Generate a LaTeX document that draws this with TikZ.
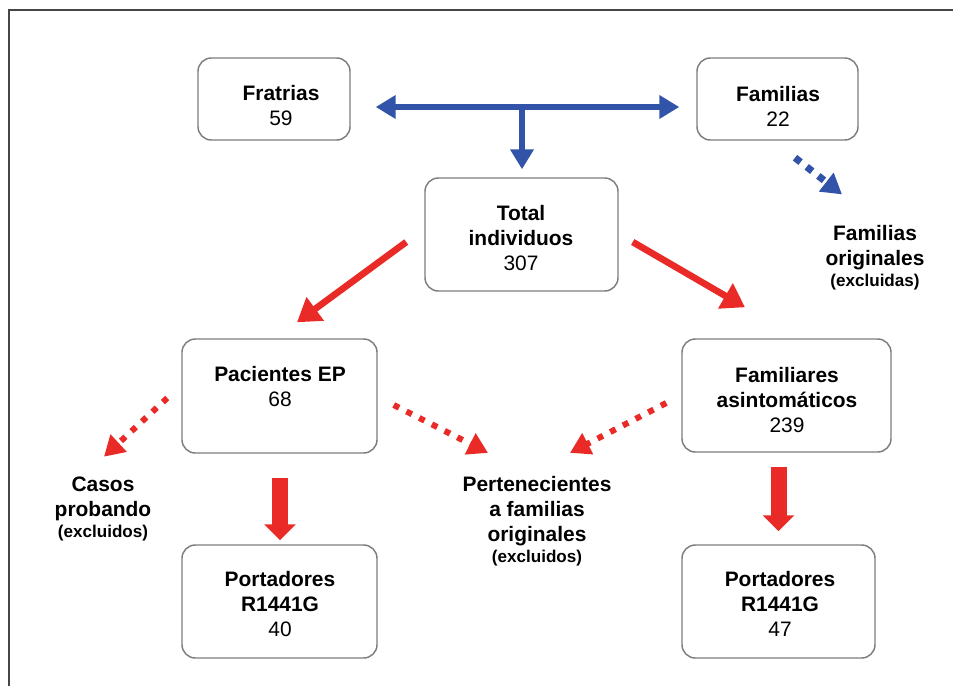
\documentclass[tikz,border=0pt]{standalone}
\usepackage{fontspec}
\setmainfont{Liberation Sans}
\usetikzlibrary{arrows.meta,calc}
\definecolor{arrblue}{RGB}{50,84,168}
\definecolor{arrred}{RGB}{233,42,38}
\definecolor{boxgray}{RGB}{125,125,125}
\definecolor{framegray}{RGB}{70,70,70}
\newcommand\exclsmall[1]{{\fontsize{12.8}{14}\selectfont\bfseries #1}}
\begin{document}
\begin{tikzpicture}[x=0.75pt,y=-0.75pt,
  box/.style={draw=boxgray,line width=1.1pt,rounded corners=10pt,inner sep=0pt},
  txt/.style={align=center,font=\fontsize{15.7}{18.75}\selectfont,inner sep=0pt},
  bluearr/.style={draw=arrblue,line width=4pt},
  redthin/.style={draw=arrred,line width=5pt,-{Triangle[length=17pt,width=21pt]}},
  redfat/.style={draw=arrred,line width=12pt,-{Triangle[length=12pt,width=23pt]}},
  reddot/.style={draw=arrred,line width=4.5pt,dash pattern=on 4.5pt off 6.2pt,-{Triangle[length=15pt,width=17pt]}},
  bluedot/.style={draw=arrblue,line width=5.3pt,dash pattern=on 5.3pt off 5.8pt,-{Triangle[length=15pt,width=17pt]}},
  framestyle/.style={draw=framegray,line width=1.5pt}
]
\useasboundingbox (0,0) rectangle (953,686);
\fill[white] (0,0) rectangle (953,686);
\coordinate (fbl) at (8.5,686);
\coordinate (ftl) at (8.5,9.5);
\coordinate (ftr) at (953,9.5);
\draw[framestyle] (fbl) -- (ftl) -- (ftr);

% boxes
\node[box,minimum width=114pt,minimum height=61.5pt] (fr) at (274,99) {};
\node[box,minimum width=120.75pt,minimum height=61.5pt] (fa) at (777.5,99) {};
\node[box,minimum width=144.75pt,minimum height=84.75pt] (tot) at (521.5,234.5) {};
\node[box,minimum width=146.25pt,minimum height=85.5pt] (pac) at (279.5,396) {};
\node[box,minimum width=156.75pt,minimum height=84.75pt] (fam) at (786.5,395.5) {};
\node[box,minimum width=146.25pt,minimum height=84.75pt] (p1) at (279.5,601.5) {};
\node[box,minimum width=144.75pt,minimum height=84.75pt] (p2) at (778.5,601.5) {};

% box texts
\node[txt] (tfr) at (281,106) {\textbf{Fratrias}\\59};
\node[txt] (tfa) at (778,106) {\textbf{Familias}\\22};
\node[txt] (ttot) at (521,238) {\textbf{Total}\\\textbf{individuos}\\307};
\node[txt] (tpac) at (280,387) {\textbf{Pacientes EP}\\68};
\node[txt] (tfam) at (787,400) {\textbf{Familiares}\\\textbf{asintomáticos}\\239};
\node[txt] (tp1) at (280,604) {\textbf{Portadores}\\\textbf{R1441G}\\40};
\node[txt] (tp2) at (780,604) {\textbf{Portadores}\\\textbf{R1441G}\\47};

% free texts
\node[txt] (famorig) at (875,258) {\textbf{Familias}\\\textbf{originales}\\[-3pt]\exclsmall{(excluidas)}};
\node[txt] (casos) at (103,509) {\textbf{Casos}\\\textbf{probando}\\[-3pt]\exclsmall{(excluidos)}};
\node[txt] (pert) at (537,521) {\textbf{Pertenecientes}\\\textbf{a familias}\\\textbf{originales}\\[-3pt]\exclsmall{(excluidos)}};

% blue arrows
\draw[bluearr,{Triangle[length=15pt,width=17pt]}-{Triangle[length=15pt,width=17pt]}]
  ($(fr.east)+(25,8)$) -- ($(fa.west)+(-17,8)$);
\draw[bluearr,-{Triangle[length=15pt,width=17pt]}]
  ($(tot.north)+(0.5,-71)$) -- ($(tot.north)+(0.5,-8)$);
\draw[bluedot] ($(fa.south)+(17.5,17)$) -- ($(famorig.north)+(-33,-31)$);

% red arrows
\draw[redthin] ($(tot.west)+(-18,7.5)$) -- ($(pac.north)+(17.5,-16)$);
\draw[redthin] ($(tot.east)+(14,7.5)$) -- ($(fam.north)+(-41.5,-31)$);
\draw[reddot] ($(pac.west)+(-14,2)$) -- ($(casos.north)+(1,-20)$);
\draw[reddot] ($(pac.east)+(16,9)$) -- ($(pert.north)+(-49,-23)$);
\draw[reddot] ($(fam.west)+(-15,7.5)$) -- ($(pert.north)+(33,-23)$);
\draw[redfat] ($(pac.south)+(0.5,24)$) -- ($(p1.north)+(0.5,-4)$);
\draw[redfat] ($(p2.north)+(0,-77)$) -- ($(p2.north)+(0,-13)$);
\end{tikzpicture}
\end{document}
